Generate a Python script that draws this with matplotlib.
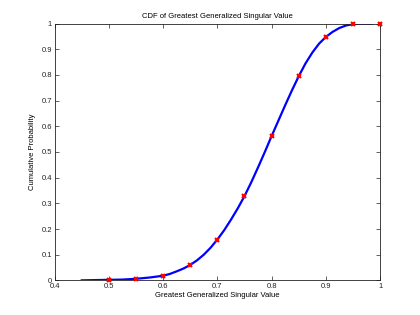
import numpy as np
import matplotlib.pyplot as plt

plt.rcParams['font.family'] = ['Liberation Sans', 'DejaVu Sans']

# smooth CDF curve
curve_x = [0.45, 0.475, 0.5, 0.525, 0.55, 0.575, 0.6, 0.6125, 0.625, 0.6375, 0.65,
           0.6625, 0.675, 0.6875, 0.7, 0.7125, 0.725, 0.7375, 0.75, 0.7625, 0.775,
           0.7875, 0.8, 0.8125, 0.825, 0.8375, 0.85, 0.8625, 0.875, 0.8875, 0.9,
           0.9125, 0.925, 0.9375, 0.95, 0.965, 0.985]
curve_y = [0.0, 0.001, 0.002, 0.003, 0.006, 0.011, 0.018, 0.025, 0.035, 0.046, 0.06,
           0.078, 0.10, 0.127, 0.159, 0.195, 0.236, 0.28, 0.328, 0.382, 0.44,
           0.5, 0.562, 0.622, 0.682, 0.74, 0.795, 0.845, 0.887, 0.922, 0.948,
           0.968, 0.983, 0.993, 0.998, 1.0, 1.0]

# sample points (red markers)
mark_x = [0.5, 0.55, 0.6, 0.65, 0.7, 0.75, 0.8, 0.85, 0.9, 0.95, 1.0]
mark_y = [0.002, 0.005, 0.018, 0.06, 0.159, 0.328, 0.562, 0.795, 0.948, 0.999, 1.0]

fig = plt.figure(figsize=(4.2, 3.15), dpi=100)
ax = fig.add_axes([0.13, 0.11, 0.775, 0.815])

ax.plot(curve_x, curve_y, color='#0000ff', linewidth=1.6, zorder=2)
ax.plot(mark_x, mark_y, linestyle='none', marker='x', color='#ff0000',
        markersize=3, markeredgewidth=1.5, zorder=3, clip_on=False)

ax.set_xlim(0.4, 1.0)
ax.set_ylim(0, 1)
ax.set_xticks(np.arange(0.4, 1.01, 0.1))
ax.set_yticks(np.arange(0, 1.01, 0.1))
ax.set_xticklabels(['0.4', '0.5', '0.6', '0.7', '0.8', '0.9', '1'])
ax.set_yticklabels(['0', '0.1', '0.2', '0.3', '0.4', '0.5', '0.6', '0.7', '0.8', '0.9', '1'])
ax.tick_params(direction='in', length=3, width=0.5, labelsize=5.5, pad=2,
               top=True, right=True, colors='#222222')
for s in ax.spines.values():
    s.set_linewidth(0.6)
    s.set_color('#222222')

ax.set_title('CDF of Greatest Generalized Singular Value', fontsize=5.5, pad=4)
ax.set_xlabel('Greatest Generalized Singular Value', fontsize=5.5, labelpad=1)
ax.set_ylabel('Cumulative Probability', fontsize=5.5, labelpad=4)

fig.savefig('out.png', dpi=100)
